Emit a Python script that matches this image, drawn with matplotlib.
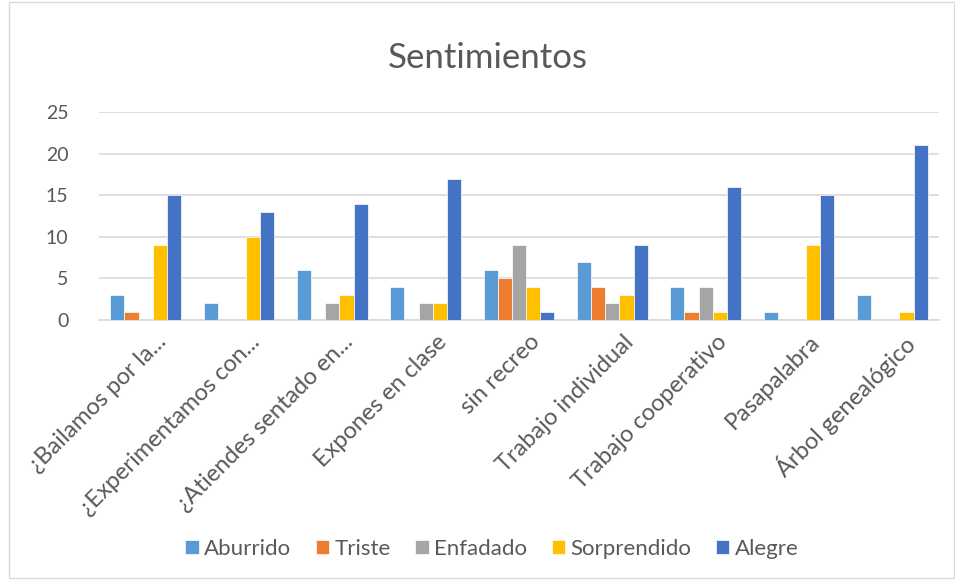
import matplotlib
matplotlib.use("Agg")
import matplotlib.pyplot as plt
import matplotlib.transforms as mtransforms
import numpy as np
from matplotlib.patches import Rectangle

plt.rcParams['font.family'] = ['Lato', 'DejaVu Sans']

categories = ["¿Bailamos por la...", "¿Experimentamos con...", "¿Atiendes sentado en...",
              "Expones en clase", "sin recreo", "Trabajo individual",
              "Trabajo cooperativo", "Pasapalabra", "Árbol genealógico"]
series_names = ["Aburrido", "Triste", "Enfadado", "Sorprendido", "Alegre"]
aburrido = [3, 2, 6, 4, 6, 7, 4, 1, 3]
triste = [1, 0, 0, 0, 5, 4, 1, 0, 0]
enfadado = [0, 0, 2, 2, 9, 2, 4, 0, 0]
sorprendido = [9, 10, 3, 2, 4, 3, 1, 9, 1]
alegre = [15, 13, 14, 17, 1, 9, 16, 15, 21]
colors = ["#5B9BD5", "#ED7D31", "#A5A5A5", "#FFC000", "#4472C4"]
yticks = [0, 5, 10, 15, 20, 25]

fig = plt.figure(figsize=(9.55, 5.81), dpi=100)
ax = fig.add_axes([99 / 955, 1 - 320 / 581, 840 / 955, 208 / 581])

data = [aburrido, triste, enfadado, sorprendido, alegre]
x = np.arange(len(categories))
w = 0.152
for i, (vals, name, c) in enumerate(zip(data, series_names, colors)):
    ax.bar(x + (i - 2) * w, vals, width=w, color=c, label=name,
           edgecolor='white', linewidth=0.5, zorder=3)

ax.set_xlim(-0.5, len(categories) - 0.5)
ax.set_ylim(0, 25)
ax.set_yticks(yticks)
ax.set_yticklabels([str(t) for t in yticks], fontsize=14, color='#595959')
ax.yaxis.grid(True, color='#d9d9d9', linewidth=1.2, zorder=0)
ax.set_axisbelow(True)
ax.tick_params(axis='both', length=0)
ax.tick_params(axis='y', pad=22)
for s in ['top', 'right', 'left']:
    ax.spines[s].set_visible(False)
ax.spines['bottom'].set_color('#d9d9d9')
ax.spines['bottom'].set_linewidth(1.2)

ax.set_xticks(x)
ax.set_xticklabels(categories, rotation=45, ha='right', va='top',
                   rotation_mode='anchor', fontsize=17, color='#595959')
ax.tick_params(axis='x', pad=8)
offset = mtransforms.ScaledTranslation(10 / 100, 0, fig.dpi_scale_trans)
for lbl in ax.get_xticklabels():
    lbl.set_transform(lbl.get_transform() + offset)

fig.text(0.5105, 0.901, "Sentimientos", ha='center', va='center',
         fontsize=25, color='#595959')

leg = fig.legend(loc='center', bbox_to_anchor=(0.515, 0.055), ncol=5, frameon=False,
                 fontsize=16, handlelength=0.6, handleheight=0.6,
                 handletextpad=0.25, columnspacing=1.1)
for t in leg.get_texts():
    t.set_color('#595959')

fig.patches.append(Rectangle((0.009, 0.006), 0.99, 0.99, transform=fig.transFigure,
                             fill=False, edgecolor='#d9d9d9', linewidth=1))

fig.savefig("out.png", dpi=100)
